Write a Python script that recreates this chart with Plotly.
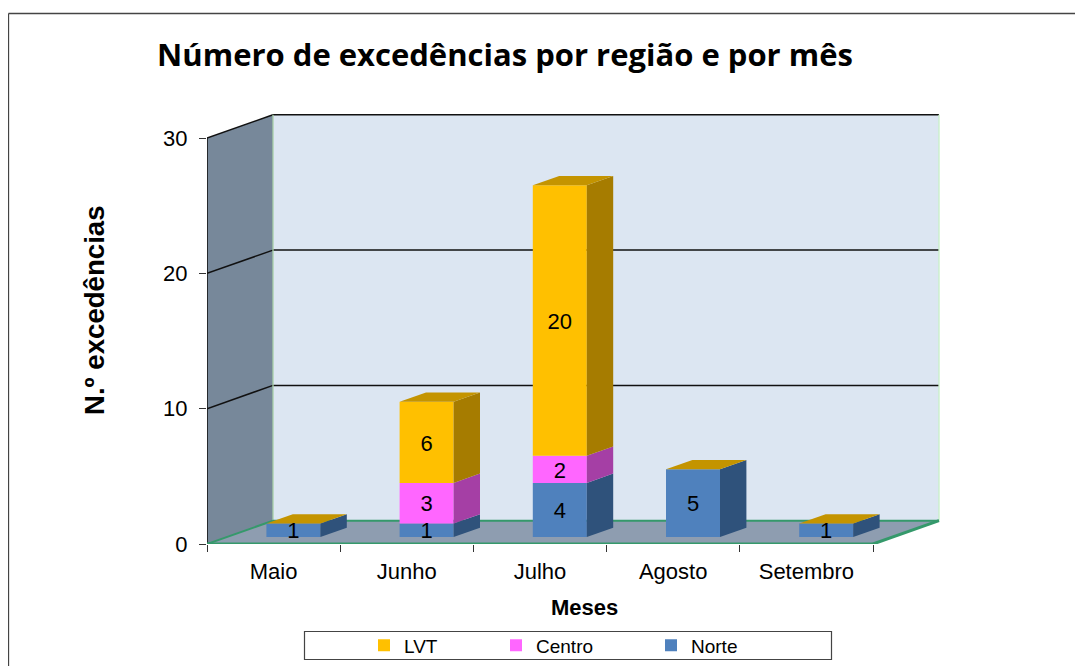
import plotly.graph_objects as go

months = ["Maio", "Junho", "Julho", "Agosto", "Setembro"]
norte = [1, 1, 4, 5, 1]
centro = [0, 3, 2, 0, 0]
lvt = [0, 6, 20, 0, 0]
y_ticks = [0, 10, 20, 30]
series = [
    ("Norte", norte, "#4F81BD", "#2F527B", "legend3", 691),
    ("Centro", centro, "#FF66FF", "#A53FA5", "legend2", 536),
    ("LVT", lvt, "#FFC000", "#A67C00", "legend", 404),
]
TOP_COLOUR = "#C49400"

# The page has an 8px body margin, so the figure is 1075x658 placed at (8,8).
OFF = 8
W, H = 1075, 658


def fx(p):
    return (p - OFF) / W


def fy(p):
    return 1 - (p - OFF) / H


X0, X1 = 207.0, 950.0      # image pixels of the x axis domain
Y0, YTOP = 544.0, 105.0    # image pixels of value 0 and of the top of the y domain
CAT_PX = 133.2
VAL_PX = 13.53
DEPTH_X = 66.0 / CAT_PX    # floor depth, in axis units
DEPTH_Y = 23.3 / VAL_PX
BAR_W = 54.0 / CAT_PX
D_FRONT, D_BACK = 0.30, 0.70
LABEL_NUDGE = 0.2          # the labels sit slightly under the exact centre of a segment
y_max = (Y0 - YTOP) / VAL_PX
x_min = -0.5
x_max = x_min + (X1 - X0) / CAT_PX


def px(cat, val, depth=0.0):
    return cat + depth * DEPTH_X, val + depth * DEPTH_Y


def poly(pts, fill):
    path = "M " + " L ".join(f"{a},{b}" for a, b in pts) + " Z"
    return dict(type="path", path=path, xref="x", yref="y", fillcolor=fill,
                line=dict(color=fill, width=0), layer="below")


def seg(a, b, color, width):
    return dict(type="line", x0=a[0], y0=a[1], x1=b[0], y1=b[1], xref="x", yref="y",
                line=dict(color=color, width=width), layer="below")


XL, XR = -0.5, 4.5
T = y_ticks[-1]
shapes = [
    # outer frame: only top and left edges are visible in the picture
    dict(type="line", xref="paper", yref="paper", x0=fx(8.5), x1=fx(1083), y0=fy(13.5), y1=fy(13.5),
         line=dict(color="#444444", width=1.3), layer="below"),
    dict(type="line", xref="paper", yref="paper", x0=fx(8.5), x1=fx(8.5), y0=fy(13.5), y1=fy(666),
         line=dict(color="#444444", width=1.3), layer="below"),
    # back wall, side wall, floor
    poly([px(XL, 0, 1), px(XR, 0, 1), px(XR, T, 1), px(XL, T, 1)], "#DCE6F2"),
    poly([px(XL, 0), px(XL, 0, 1), px(XL, T, 1), px(XL, T)], "#77889A"),
    poly([px(XL, 0), px(XR, 0), px(XR, 0, 1), px(XL, 0, 1)], "#8E9DB0"),
]
for t in y_ticks[1:]:
    shapes.append(seg(px(XL, t), px(XL, t, 1), "#111111", 1.5))
    shapes.append(seg(px(XL, t, 1), px(XR, t, 1), "#111111", 1.5))
shapes += [
    seg(px(XL, 0), px(XL, T), "#111111", 1.6),
    seg(px(XL, 0, 1), px(XL, T, 1), "#A8D0A8", 1.3),
    seg(px(XR, 0, 1), px(XR, T, 1), "#C8F0C8", 1.3),
    seg(px(XL, 0), px(XR, 0), "#35996B", 3),
    seg(px(XR, 0), px(XR, 0, 1), "#35996B", 3),
    seg(px(XL, 0, 1), px(XR, 0, 1), "#35996B", 2),
    seg(px(XL, 0), px(XL, 0, 1), "#35996B", 2),
    # legend box
    dict(type="rect", xref="paper", yref="paper", x0=fx(304.5), x1=fx(831.5),
         y0=fy(659.5), y1=fy(631.5), line=dict(color="#444444", width=1.2), fillcolor="white", layer="below"),
]

fig = go.Figure()
base_d = px(0, 0, D_FRONT)[1]
half = BAR_W / 2
text_x, text_y, text_s = [], [], []
bases = [0.0] * len(months)

for name, vals, front, side, legend_id, legend_px in series:
    xs = [px(i, 0, D_FRONT)[0] for i in range(len(vals))]
    bs = [bases[i] + base_d for i in range(len(vals))]
    fig.add_trace(go.Bar(x=xs, y=vals, base=bs, width=BAR_W, name=name, legend=legend_id,
                         marker=dict(color=front, line=dict(width=0)), hoverinfo="skip"))
    for i, v in enumerate(vals):
        b = bases[i]
        if v > 0:
            cr = i + half
            pts = [px(cr, b, D_FRONT), px(cr, b, D_BACK), px(cr, b + v, D_BACK), px(cr, b + v, D_FRONT)]
            fig.add_trace(go.Scatter(x=[p[0] for p in pts], y=[p[1] for p in pts], mode="lines",
                                     fill="toself", fillcolor=side, line=dict(width=0),
                                     showlegend=False, hoverinfo="skip"))
            text_x.append(xs[i])
            text_y.append(base_d + b + v / 2 - LABEL_NUDGE)
            text_s.append(str(v))
        bases[i] = b + v

# top faces take the colour of the uppermost series, LVT (zero height where absent)
for i, t in enumerate(bases):
    cl, cr = i - half, i + half
    pts = [px(cl, t, D_FRONT), px(cr, t, D_FRONT), px(cr, t, D_BACK), px(cl, t, D_BACK)]
    fig.add_trace(go.Scatter(x=[p[0] for p in pts], y=[p[1] for p in pts], mode="lines",
                             fill="toself", fillcolor=TOP_COLOUR, line=dict(width=0),
                             showlegend=False, hoverinfo="skip"))

fig.add_trace(go.Scatter(x=text_x, y=text_y, text=text_s, mode="text", textposition="middle center",
                         textfont=dict(family="Liberation Sans", size=22, color="black"),
                         showlegend=False, hoverinfo="skip"))

layout_legends = {}
for name, vals, front, side, legend_id, legend_px in series:
    layout_legends[legend_id] = dict(
        x=fx(legend_px - 40), xanchor="left", y=fy(645.5), yanchor="middle",
        bgcolor="rgba(0,0,0,0)", font=dict(size=19), itemclick=False, itemdoubleclick=False)

fig.update_layout(
    width=W, height=H, autosize=False, paper_bgcolor="white", plot_bgcolor="rgba(0,0,0,0)",
    margin=dict(l=0, r=0, t=0, b=0, autoexpand=False), barmode="overlay", shapes=shapes,
    font=dict(family="Liberation Sans", color="black"),
    title=dict(text="<b>Número de excedências por região e por mês</b>", x=fx(505), xanchor="center",
               y=fy(55), yanchor="middle", font=dict(family="Open Sans", size=31, color="black")),
    xaxis=dict(domain=[fx(X0), fx(X1)], range=[x_min, x_max], tickmode="array",
               tickvals=list(range(len(months))), ticktext=months, ticklen=0, ticklabelstandoff=12,
               tickfont=dict(size=22), showgrid=False, zeroline=False, showline=False,
               minor=dict(tickmode="array", tickvals=[i - 0.5 for i in range(len(months) + 1)],
                          ticks="outside", ticklen=7, tickcolor="#333333", tickwidth=1, showgrid=False),
               anchor="y"),
    yaxis=dict(domain=[fy(Y0), fy(YTOP)], range=[0, y_max], tickmode="array",
               tickvals=y_ticks, ticks="outside", ticklen=7, tickcolor="#333333", ticklabelstandoff=7,
               tickfont=dict(size=22), showgrid=False, zeroline=False, showline=False, anchor="x"),
    annotations=[
        dict(text="<b>N.º excedências</b>", xref="paper", yref="paper", x=fx(94), y=fy(310),
             xanchor="center", yanchor="middle", textangle=-90, showarrow=False, font=dict(size=27.6)),
        dict(text="<b>Meses</b>", xref="paper", yref="paper", x=fx(584), y=fy(607),
             xanchor="center", yanchor="middle", showarrow=False, font=dict(size=22)),
    ],
    **layout_legends,
)
fig.write_html("out.html")
